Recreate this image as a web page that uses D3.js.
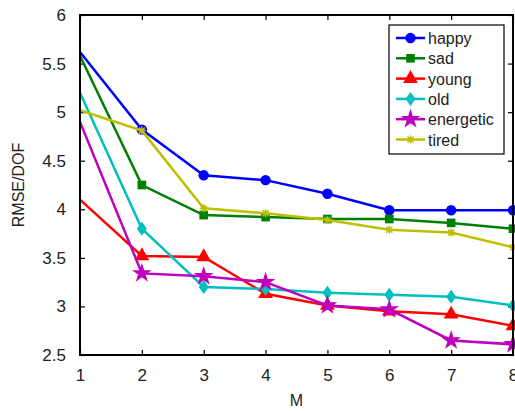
<!DOCTYPE html>
<html>
<head>
<meta charset="utf-8">
<script src="https://cdn.jsdelivr.net/npm/d3@7"></script>
<style>
  body { margin: 0; background: #fff; }
  svg { display: block; }
  text { font-family: "Liberation Sans", Arial, sans-serif; }
</style>
</head>
<body>
<div class="chart"></div>
<script>
var M = [1, 2, 3, 4, 5, 6, 7, 8]
var happy = [5.62, 4.82, 4.35, 4.30, 4.16, 3.99, 3.99, 3.99]
var sad = [5.58, 4.25, 3.94, 3.92, 3.90, 3.90, 3.86, 3.80]
var young = [4.10, 3.52, 3.51, 3.13, 3.01, 2.95, 2.92, 2.80]
var old = [5.20, 3.80, 3.20, 3.18, 3.14, 3.12, 3.10, 3.01]
var energetic = [4.90, 3.34, 3.31, 3.25, 3.01, 2.97, 2.65, 2.61]
var tired = [5.02, 4.81, 4.01, 3.96, 3.89, 3.79, 3.76, 3.61]
var yTicks = [2.5, 3, 3.5, 4, 4.5, 5, 5.5, 6]

var series = [
    { name: 'happy', values: happy, color: '#0000ff', marker: 'circle' },
    { name: 'sad', values: sad, color: '#008000', marker: 'square' },
    { name: 'young', values: young, color: '#ff0000', marker: 'triangle' },
    { name: 'old', values: old, color: '#00bfbf', marker: 'diamond' },
    { name: 'energetic', values: energetic, color: '#bf00bf', marker: 'star' },
    { name: 'tired', values: tired, color: '#bfbf00', marker: 'asterisk' }
]

var width = 515, height = 412
var margin = { top: 15, right: 2, bottom: 57, left: 80 }

var svg = d3.select('.chart').append('svg')
    .attr('width', width)
    .attr('height', height)

var x = d3.scaleLinear().domain([1, 8]).range([margin.left, width - margin.right])
var y = d3.scaleLinear().domain([2.5, 6]).range([height - margin.bottom, margin.top])

// ticks pointing inward on all four sides
function styleAxis(g) {
    g.select('.domain').remove()
    g.selectAll('line').attr('stroke', '#000').attr('stroke-width', 1.2)
    g.selectAll('text').attr('font-size', 17).attr('fill', '#222')
}
svg.append('g')
    .attr('transform', 'translate(0,' + y(2.5) + ')')
    .call(d3.axisBottom(x).tickValues(M).tickSize(-5).tickPadding(14).tickFormat(d3.format('d')))
    .call(styleAxis)
svg.append('g')
    .attr('transform', 'translate(0,' + y(6) + ')')
    .call(d3.axisTop(x).tickValues(M).tickSize(-5).tickFormat(''))
    .call(styleAxis)
svg.append('g')
    .attr('transform', 'translate(' + x(1) + ',0)')
    .call(d3.axisLeft(y).tickValues(yTicks).tickSize(-5).tickPadding(14).tickFormat(d3.format('')))
    .call(styleAxis)
svg.append('g')
    .attr('transform', 'translate(' + x(8) + ',0)')
    .call(d3.axisRight(y).tickValues(yTicks).tickSize(-5).tickFormat(''))
    .call(styleAxis)

svg.append('text')
    .attr('x', (x(1) + x(8)) / 2).attr('y', 406)
    .attr('text-anchor', 'middle').attr('font-size', 16).attr('fill', '#222')
    .text('M')
svg.append('text')
    .attr('transform', 'translate(24,' + y(4.25) + ') rotate(-90)')
    .attr('text-anchor', 'middle').attr('font-size', 16).attr('fill', '#222')
    .text('RMSE/DOF')

function markerPath(type) {
    if (type === 'circle') return d3.symbol().type(d3.symbolCircle).size(85)()
    if (type === 'square') return d3.symbol().type(d3.symbolSquare).size(75)()
    if (type === 'triangle') return d3.symbol().type(d3.symbolTriangle).size(95)()
    if (type === 'diamond') return 'M0,-7L5,0L0,7L-5,0Z'
    if (type === 'star') return d3.symbol().type(d3.symbolStar).size(120)()
    return null
}

var line = d3.line()
    .x(function (d, i) { return x(M[i]) })
    .y(function (d) { return y(d) })

var lines = svg.append('g').classed('lines', true)

series.forEach(function (s) {
    var g = lines.append('g')
    g.append('path')
        .attr('d', line(s.values))
        .attr('fill', 'none')
        .attr('stroke', s.color)
        .attr('stroke-width', 2.5)
    // no marker drawn at M = 1 in the original
    var pts = s.values.map(function (v, i) { return [x(M[i]), y(v)] }).slice(1)
    drawMarkers(g, s, pts)
})

function drawMarkers(g, s, pts) {
    if (s.marker === 'asterisk') {
        g.selectAll('path.mk')
            .data(pts)
            .enter()
            .append('path')
            .classed('mk', true)
            .attr('transform', function (d) { return 'translate(' + d[0] + ',' + d[1] + ')' })
            .attr('d', 'M-4,0L4,0M0,-4L0,4M-3,-3L3,3M-3,3L3,-3')
            .attr('stroke', s.color)
            .attr('stroke-width', 1.5)
        return
    }
    g.selectAll('path.mk')
        .data(pts)
        .enter()
        .append('path')
        .classed('mk', true)
        .attr('transform', function (d) { return 'translate(' + d[0] + ',' + d[1] + ')' })
        .attr('d', markerPath(s.marker))
        .attr('fill', s.color)
}

// frame on top of the lines
svg.append('rect')
    .attr('x', x(1)).attr('y', y(6))
    .attr('width', x(8) - x(1)).attr('height', y(2.5) - y(6))
    .attr('fill', 'none').attr('stroke', '#000').attr('stroke-width', 2)

// Legend
var legend = svg.append('g').attr('transform', 'translate(389,25)')
legend.append('rect')
    .attr('width', 115).attr('height', 129)
    .attr('fill', '#fff').attr('stroke', '#000').attr('stroke-width', 1.2)

series.forEach(function (s, i) {
    var ly = 13 + i * 20.3
    var item = legend.append('g')
    item.append('line')
        .attr('x1', 7).attr('x2', 36).attr('y1', ly).attr('y2', ly)
        .attr('stroke', s.color).attr('stroke-width', 2.5)
    drawMarkers(item, s, [[21.5, ly]])
    item.append('text')
        .attr('x', 39).attr('y', ly + 6)
        .attr('font-size', 16).attr('fill', '#222')
        .text(s.name)
})
</script>
</body>
</html>
